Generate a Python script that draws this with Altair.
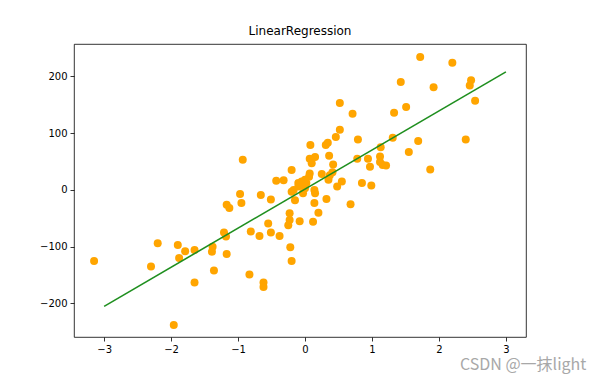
import altair as alt
import pandas as pd

# scatter data
xs = [1.72, 2.20, 1.43, 1.92, 2.48, 2.46, 2.54, 1.33, 1.51, 1.31,
      1.69, 2.40, 1.55, 1.87, 1.13, 1.12, 1.16, 1.21, 1.12, 0.52,
      0.71, 0.52, 0.46, 0.79, 0.34, 0.31, 0.08, 0.07, 0.15, 0.10,
      0.36, 0.42, 0.78, 0.94, 0.97, 0.07, 0.06, 0.41, 0.37, 0.35,
      0.00, 0.02, -0.05, 0.14, 0.15, 0.55, 0.48, 0.85, 0.99, 0.14,
      0.32, 0.68, 0.20, 0.12, -0.08, -0.20, -0.10, -0.05, 0.00, -0.20,
      -0.03, -0.15, -0.23, -0.23, -0.22, -0.20, -0.93, -0.43, -0.32, -0.97,
      -0.66, -0.51, -1.17, -1.13, -0.95, -0.25, -0.55, -0.81, -0.68, -0.51,
      -0.38, -1.21, -1.18, -1.38, -1.39, -1.17, -1.36, -0.83, -0.62, -0.62,
      -3.15, -2.20, -2.30, -1.90, -1.79, -1.88, -1.65, -1.65, -1.96, -0.17,
      -0.10, 0.25]
ys = [234, 224, 190, 181, 193, 184, 157, 136, 146, 92,
      86, 89, 67, 36, 75, 59, 44, 43, 49, 153,
      134, 106, 93, 89, 83, 79, 79, 55, 58, 47,
      60, 45, 55, 55, 41, 29, 23, 31, 26, 18,
      18, 12, 9, 0, -6, 15, 6, 12, 8, -23,
      -16, -25, -40, -56, -55, 35, 12, 15, 3, -3,
      -6, -18, -41, -53, -101, -125, 53, 16, 17, -7,
      -9, -17, -26, -32, -23, -62, -59, -73, -81, -75,
      -81, -75, -82, -100, -109, -113, -142, -149, -163, -171,
      -125, -94, -135, -97, -108, -120, -106, -163, -238, 0,
      6, 28]

# regression line endpoints
line_x = [-3, 3]
line_y = [-205, 208]

x_ticks = [-3, -2, -1, 0, 1, 2, 3]
y_ticks = [-200, -100, 0, 100, 200]

pts = pd.DataFrame({"x": xs, "y": ys})
ln = pd.DataFrame({"x": line_x, "y": line_y})

xscale = alt.Scale(domain=[-3.45, 3.30], nice=False, zero=False)
yscale = alt.Scale(domain=[-259, 257], nice=False, zero=False)

axis_common = dict(grid=False, domain=False, tickColor="#000", tickWidth=0.8,
                   tickSize=4, labelColor="#000", labelFontSize=10,
                   labelFont="DejaVu Sans", labelPadding=3, title=None,
                   format="d")

xenc = alt.X("x:Q", scale=xscale, axis=alt.Axis(values=x_ticks, **axis_common))
yenc = alt.Y("y:Q", scale=yscale, axis=alt.Axis(values=y_ticks, **axis_common))

scatter = alt.Chart(pts).mark_circle(color="#FFA500", opacity=1, size=64).encode(
    x=xenc, y=yenc)

line = alt.Chart(ln).mark_line(color="#1f8f1f", strokeWidth=1.6).encode(
    x=alt.X("x:Q", scale=xscale), y=alt.Y("y:Q", scale=yscale))

mark_text = alt.Chart(pd.DataFrame({"t": ["CSDN @一抹light"]})).mark_text(
    align="left", baseline="middle", font="Noto Sans CJK SC", fontSize=16,
    color="#a8a8a8").encode(x=alt.value(386), y=alt.value(321), text="t:N")

chart = alt.layer(scatter, line, mark_text).properties(
    width=452, height=293,
    title=alt.TitleParams("LinearRegression", font="DejaVu Sans", fontSize=12,
                          fontWeight="normal", color="#000", anchor="middle",
                          offset=6),
    autosize=alt.AutoSizeParams(type="none"),
    padding={"left": 66, "top": 36, "right": 69, "bottom": 40},
).configure_view(stroke="#000", strokeWidth=0.8)

chart.save("out.html", embed_options={"renderer": "svg", "actions": False})
